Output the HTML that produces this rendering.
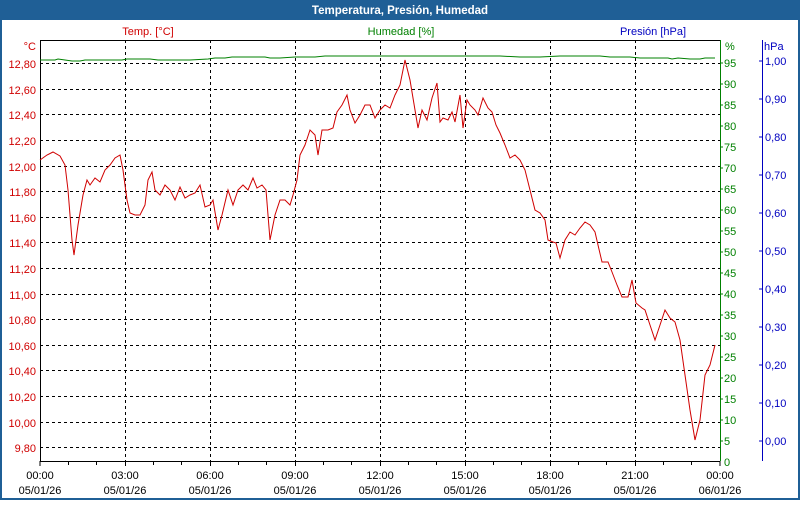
<!DOCTYPE html>
<html><head><meta charset="utf-8"><style>
body{margin:0;width:800px;height:500px;overflow:hidden;background:#fff;font-family:"Liberation Sans","DejaVu Sans",sans-serif}
</style></head><body>
<svg width="800" height="500" xmlns="http://www.w3.org/2000/svg" font-family="Liberation Sans, DejaVu Sans, sans-serif" font-size="11">
<rect x="0" y="0" width="800" height="500" fill="#1f5f96"/>
<rect x="2" y="20" width="796" height="478" fill="#fff"/>
<text x="400" y="14" fill="#fff" font-weight="bold" font-size="11.5" text-anchor="middle">Temperatura, Presión, Humedad</text>
<text x="148" y="35" fill="#d00000" text-anchor="middle">Temp. [°C]</text>
<text x="401" y="35" fill="#008000" text-anchor="middle">Humedad [%]</text>
<text x="653" y="35" fill="#0000c0" text-anchor="middle">Presión [hPa]</text>
<g stroke="#000" stroke-dasharray="3,3" stroke-width="1">
<path d="M40 63.5H720M40 89.5H720M40 114.5H720M40 140.5H720M40 166.5H720M40 191.5H720M40 217.5H720M40 242.5H720M40 268.5H720M40 294.5H720M40 319.5H720M40 345.5H720M40 370.5H720M40 396.5H720M40 422.5H720M40 447.5H720"/>
<path d="M125.5 40V461M210.5 40V461M295.5 40V461M380.5 40V461M465.5 40V461M550.5 40V461M635.5 40V461"/>
</g>
<path d="M40.5 40V461.5H720" stroke="#000" fill="none"/>
<path d="M40 40.5H720" stroke="#000"/>
<g stroke="#000"><path d="M40 461V466M68.5 461V465M96.5 461V465M125.5 461V466M153.5 461V465M181.5 461V465M210.5 461V466M238.5 461V465M266.5 461V465M295.5 461V466M323.5 461V465M351.5 461V465M380.5 461V466M408.5 461V465M436.5 461V465M465.5 461V466M493.5 461V465M521.5 461V465M550.5 461V466M578.5 461V465M606.5 461V465M635.5 461V466M663.5 461V465M691.5 461V465M720 461V466"/></g>
<g fill="#000" text-anchor="middle">
<text x="40" y="479">00:00</text><text x="40" y="494">05/01/26</text>
<text x="125" y="479">03:00</text><text x="125" y="494">05/01/26</text>
<text x="210" y="479">06:00</text><text x="210" y="494">05/01/26</text>
<text x="295" y="479">09:00</text><text x="295" y="494">05/01/26</text>
<text x="380" y="479">12:00</text><text x="380" y="494">05/01/26</text>
<text x="465" y="479">15:00</text><text x="465" y="494">05/01/26</text>
<text x="550" y="479">18:00</text><text x="550" y="494">05/01/26</text>
<text x="635" y="479">21:00</text><text x="635" y="494">05/01/26</text>
<text x="720" y="479">00:00</text><text x="720" y="494">06/01/26</text>
</g>
<g fill="#d00000" text-anchor="end">
<text x="36" y="50">°C</text>
<text x="36" y="68">12,80</text><text x="36" y="94">12,60</text><text x="36" y="119">12,40</text><text x="36" y="145">12,20</text><text x="36" y="171">12,00</text><text x="36" y="196">11,80</text><text x="36" y="222">11,60</text><text x="36" y="247">11,40</text><text x="36" y="273">11,20</text><text x="36" y="299">11,00</text><text x="36" y="324">10,80</text><text x="36" y="350">10,60</text><text x="36" y="375">10,40</text><text x="36" y="401">10,20</text><text x="36" y="427">10,00</text><text x="36" y="452">9,80</text>
</g>
<path d="M720.5 40V461" stroke="#008000"/>
<g stroke="#008000" id="gt"></g>
<g fill="#008000" font-size="11">
<text x="725" y="50">%</text>
<text x="724" y="67">95</text><text x="724" y="88">90</text><text x="724" y="109">85</text><text x="724" y="130">80</text><text x="724" y="151">75</text><text x="724" y="172">70</text><text x="724" y="193">65</text><text x="724" y="214">60</text><text x="724" y="235">55</text><text x="724" y="256">50</text><text x="724" y="277">45</text><text x="724" y="298">40</text><text x="724" y="319">35</text><text x="724" y="340">30</text><text x="724" y="361">25</text><text x="724" y="382">20</text><text x="724" y="403">15</text><text x="724" y="424">10</text><text x="724" y="445">5</text><text x="724" y="466">0</text>
</g>
<path d="M720 63H723M720 84H723M720 105H723M720 126H723M720 147H723M720 168H723M720 189H723M720 210H723M720 231H723M720 252H723M720 273H723M720 294H723M720 315H723M720 336H723M720 357H723M720 378H723M720 399H723M720 420H723M720 441H723" stroke="#008000"/>
<path d="M762.5 40V461" stroke="#0000c0"/>
<path d="M759 61H762M759 99H762M759 137H762M759 175H762M759 213H762M759 251H762M759 289H762M759 327H762M759 365H762M759 403H762M759 441H762" stroke="#0000c0"/>
<g fill="#0000c0">
<text x="764" y="50">hPa</text>
<text x="765" y="65">1,00</text><text x="765" y="103">0,90</text><text x="765" y="141">0,80</text><text x="765" y="179">0,70</text><text x="765" y="217">0,60</text><text x="765" y="255">0,50</text><text x="765" y="293">0,40</text><text x="765" y="331">0,30</text><text x="765" y="369">0,20</text><text x="765" y="407">0,10</text><text x="765" y="445">0,00</text>
</g>
<polyline fill="none" stroke="#008000" points="40,60 55,60 58,59 65,60 72,61 80,61 85,60 95,60 100,60 122,60 127,59 150,59 158,60 165,60 190,60 208,59 215,58 225,58 232,57 240,57 265,57 270,58 280,58 295,57 315,57 325,56 345,56 360,56 380,56 395,56 420,56 440,56 470,56 500,56 520,57 540,57 560,56 600,56 610,57 622,57 630,57 640,58 668,58 672,59 678,58 690,59 700,59 705,58 715,58"/>
<polyline fill="none" stroke="#d00000" points="40,160 47,155 53,152 60,156 65,165 68,190 72,240 74,255 78,225 83,195 87,180 90,185 95,178 100,182 105,170 110,165 115,158 120,155 123,170 127,200 130,213 135,215 140,215 145,205 148,180 152,172 155,190 160,195 165,185 170,190 175,200 180,187 185,198 190,195 195,193 200,185 205,207 210,205 213,200 218,230 222,215 228,190 233,205 238,190 243,185 248,190 253,178 257,188 262,185 266,190 270,240 275,215 280,200 285,200 290,205 293,195 297,180 300,155 305,145 310,130 315,135 318,155 322,130 328,130 333,128 337,112 342,105 347,95 350,110 355,123 360,115 365,105 370,105 375,118 380,110 385,105 390,108 395,95 400,85 405,60 410,80 415,110 418,128 422,110 427,120 432,98 437,83 440,122 443,118 448,120 452,112 455,122 460,95 463,128 467,100 470,105 475,110 478,115 483,98 488,108 492,112 496,125 500,133 505,145 510,158 515,155 520,160 525,170 530,190 535,210 540,213 545,220 548,240 553,242 556,243 560,258 565,240 570,232 575,235 580,228 585,222 590,225 595,232 598,245 602,262 608,262 612,272 617,285 622,297 628,297 632,280 636,303 642,308 645,310 650,325 655,340 660,325 665,310 670,318 675,322 680,340 685,375 690,410 695,440 700,420 705,375 710,365 715,345"/>
</svg>
</body></html>
